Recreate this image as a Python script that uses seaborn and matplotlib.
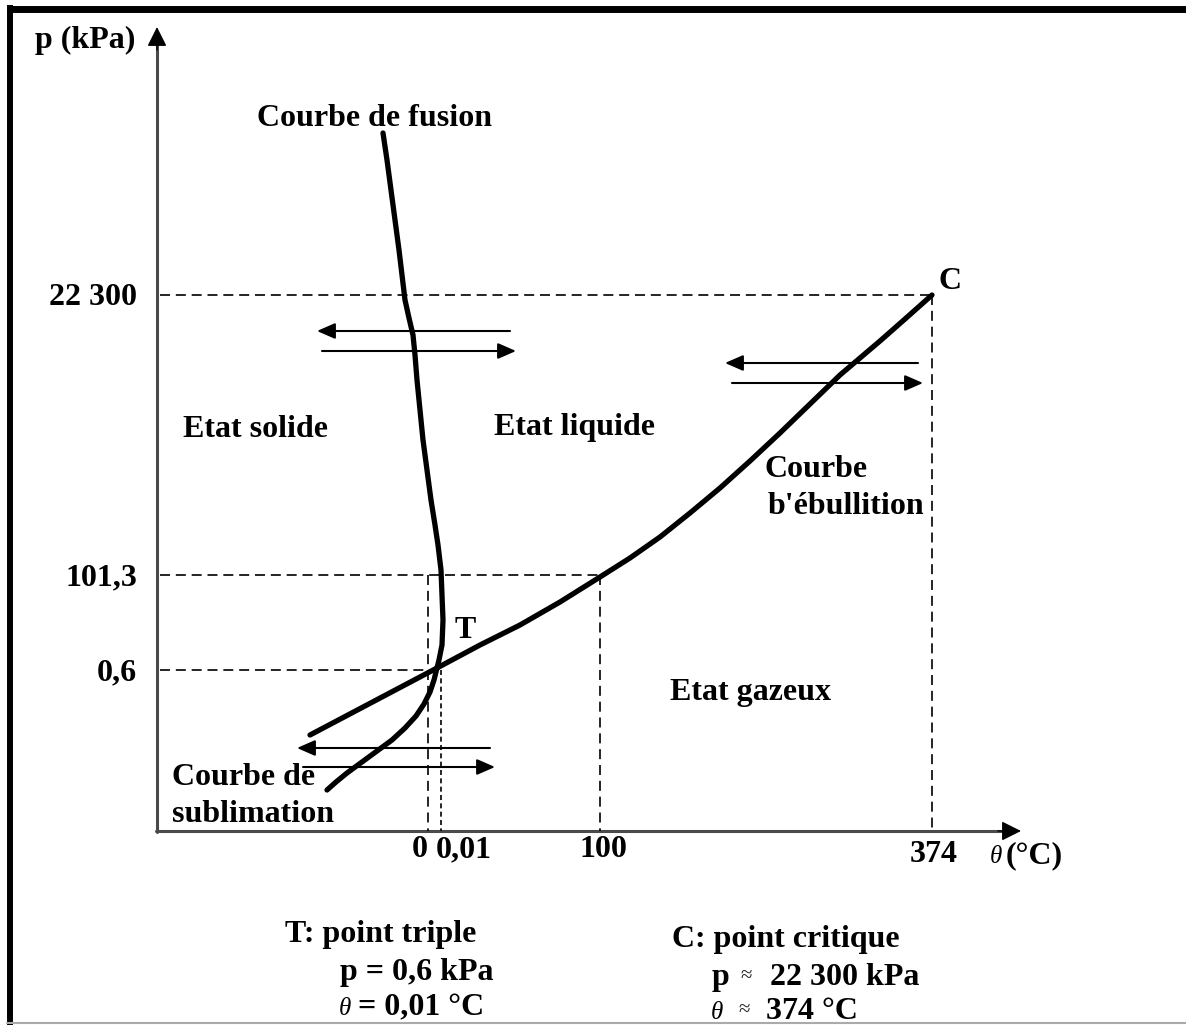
import matplotlib
matplotlib.use("Agg")
import matplotlib.pyplot as plt
import seaborn as sns
import pandas as pd

# Schematic phase diagram of water. All coordinates below are schematic
# positions on the drawing (the p and theta axes are not to scale).

# key levels on the schematic axes
p_levels = [295, 575, 670]
p_labels = ["22 300", "101,3", "0,6"]
t_levels = [428, 441, 600, 932]
t_labels = ["0", "0,01", "100", "374"]

triple_pt = (437, 668)
critical_pt = (932, 295)

# curves
fusion_x = [383, 387, 391, 395, 399, 402, 405, 409, 413, 415, 417, 420, 423,
            427, 431, 435, 438, 441, 442, 443, 442, 439, 437]
fusion_y = [133, 160, 190, 220, 250, 275, 300, 318, 335, 355, 380, 410, 440,
            470, 500, 525, 545, 570, 595, 620, 645, 660, 668]

boil_x = [437, 480, 520, 560, 600, 630, 660, 690, 720, 750, 780, 810, 840,
          860, 880, 905, 932]
boil_y = [668, 645, 625, 602, 577, 558, 537, 513, 488, 461, 433, 404, 375,
          358, 341, 319, 295]

sublim_x = [437, 434, 430, 424, 416, 405, 392, 377, 362, 347, 336, 327]
sublim_y = [668, 680, 692, 704, 716, 728, 740, 751, 762, 773, 782, 790]

metastable_x = [437, 310]
metastable_y = [668, 735]

# pairs of transition arrows (start x, tip x, y)
arrows = [
    (510, 317, 331), (322, 516, 351),
    (918, 725, 363), (732, 923, 383),
    (490, 297, 748), (303, 495, 767),
]

sns.set_theme(style="white")
plt.rcParams["font.family"] = ["Liberation Serif", "DejaVu Serif"]

fig = plt.figure(figsize=(11.86, 10.25), dpi=100)
ax = fig.add_axes([0, 0, 1, 1])

# frame of the picture
ax.plot([7, 1186], [8.5, 8.5], color="black", lw=5, solid_capstyle="butt")
ax.plot([10, 10], [5, 1025], color="black", lw=4.3, solid_capstyle="butt")
ax.plot([7, 1186], [1023, 1023], color="#aaaaaa", lw=1.5)

# axes with arrows
x0, y0 = 157, 831
ax.plot([x0, x0], [y0 + 1, 40], color="#4a4a4a", lw=2.2)
ax.plot([x0 - 1, 1008], [y0, y0], color="#4a4a4a", lw=2.2)
head = dict(arrowstyle="-|>,head_length=0.6,head_width=0.3",
            mutation_scale=20, lw=1, color="black", shrinkA=0, shrinkB=0)
ax.annotate("", xy=(x0, 27), xytext=(x0, 50), arrowprops=head)
ax.annotate("", xy=(1021, y0), xytext=(998, y0), arrowprops=head)

# dashed guide lines
dash = dict(color="black", lw=1.2, dashes=(6, 3.5))
ax.plot([x0 + 3, critical_pt[0]], [p_levels[0], p_levels[0]], **dash)
ax.plot([critical_pt[0], critical_pt[0]], [p_levels[0], y0], **dash)
ax.plot([x0 + 3, t_levels[2]], [p_levels[1], p_levels[1]], **dash)
ax.plot([t_levels[2], t_levels[2]], [p_levels[1], y0], **dash)
ax.plot([t_levels[0], t_levels[0]], [p_levels[1], y0], **dash)
ax.plot([x0 + 3, triple_pt[0]], [p_levels[2], p_levels[2]], **dash)
ax.plot([t_levels[1], t_levels[1]], [p_levels[2], y0], color="black", lw=1.2, dashes=(3, 2))

# phase boundary curves
curves = {
    "fusion": (fusion_x, fusion_y),
    "boil": (boil_x, boil_y),
    "sublim": (sublim_x, sublim_y),
    "meta": (metastable_x, metastable_y),
}
for name, (cx, cy) in curves.items():
    df = pd.DataFrame({"x": cx, "y": cy})
    sns.lineplot(data=df, x="x", y="y", sort=False, estimator=None, ax=ax,
                 color="black", lw=3.8, legend=False,
                 solid_capstyle="round", solid_joinstyle="round")

# transition arrows
for xs, xt, ya in arrows:
    ax.annotate("", xy=(xt, ya), xytext=(xs, ya),
                arrowprops=dict(arrowstyle="-|>,head_length=0.55,head_width=0.24",
                                mutation_scale=20, lw=1.5, color="black",
                                shrinkA=0, shrinkB=0))

ax.set_xlim(0, 1186)
ax.set_ylim(1025, 0)
ax.axis("off")

fs = 23
bold = dict(fontsize=fs, fontweight="bold", color="black", va="baseline")
theta = dict(fontsize=18, fontstyle="italic", color="black", va="baseline", ha="left")

ax.text(35, 48, "p (kPa)", ha="left", **bold)
for lvl, lab in zip(p_levels, p_labels):
    ax.text(137, lvl + 10, lab, ha="right", **bold)

ax.text(412, 857, t_labels[0], ha="left", **bold)
ax.text(436, 857, t_labels[1], ha="left", **bold)
ax.text(t_levels[2] + 3, 857, t_labels[2], ha="center", **bold)
ax.text(t_levels[3] + 2, 862, t_labels[3], ha="center", **bold)
ax.text(990, 863, "θ", **theta)
ax.text(1006, 863, "(°C)", ha="left", **bold)

ax.text(938, 289, "C", ha="left", **bold)
ax.text(455, 638, "T", ha="left", **bold)

ax.text(257, 126, "Courbe de fusion", ha="left", **bold)
ax.text(183, 437, "Etat solide", ha="left", **bold)
ax.text(494, 435, "Etat liquide", ha="left", **bold)
ax.text(670, 700, "Etat gazeux", ha="left", **bold)
ax.text(765, 477, "Courbe", ha="left", **bold)
ax.text(768, 514, "b'ébullition", ha="left", **bold)
ax.text(172, 785, "Courbe de", ha="left", **bold)
ax.text(172, 822, "sublimation", ha="left", **bold)

# notes under the chart
ax.text(285, 942, "T: point triple", ha="left", **bold)
ax.text(340, 980, "p = 0,6 kPa", ha="left", **bold)
ax.text(339, 1015, "θ", **theta)
ax.text(358, 1015, "= 0,01 °C", ha="left", **bold)

ax.text(672, 947, "C: point critique", ha="left", **bold)
ax.text(712, 985, "p", ha="left", **bold)
ax.text(740, 981, "≈", fontsize=15, va="baseline", ha="left")
ax.text(770, 985, "22 300 kPa", ha="left", **bold)
ax.text(711, 1019, "θ", **theta)
ax.text(738, 1015, "≈", fontsize=15, va="baseline", ha="left")
ax.text(766, 1019, "374 °C", ha="left", **bold)

fig.savefig("out.png", dpi=100, facecolor="white")
